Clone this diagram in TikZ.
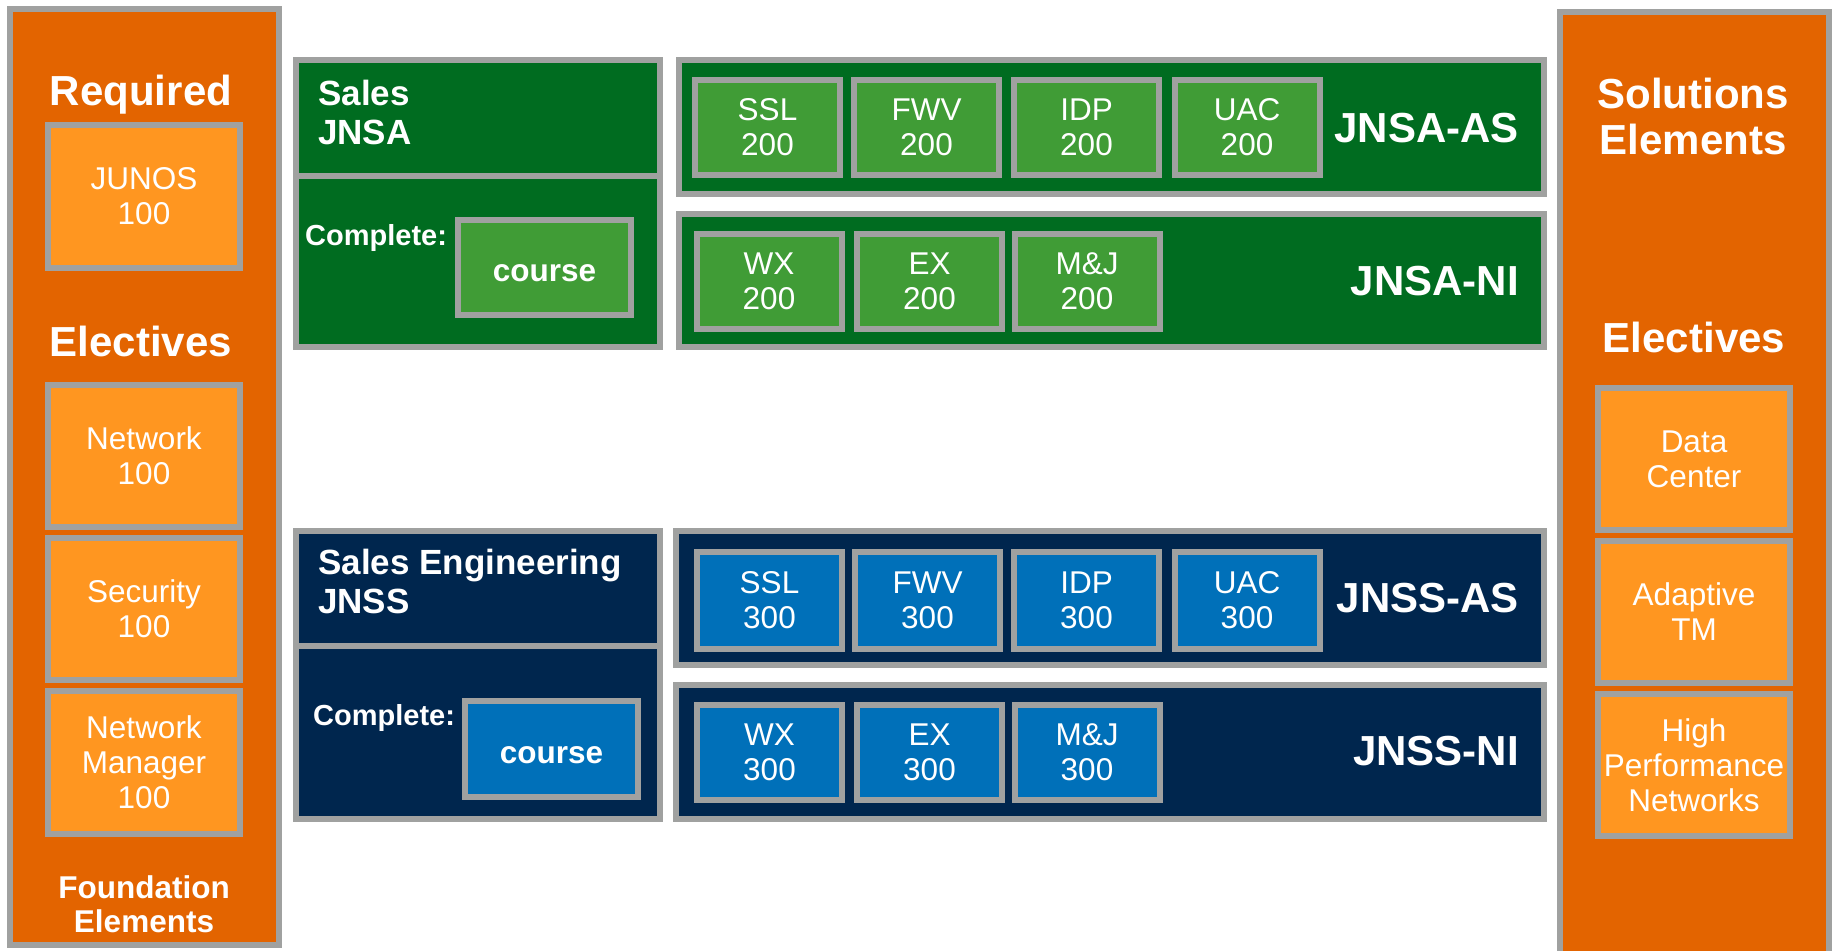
\documentclass[tikz,border=0pt]{standalone}
\usepackage{fontspec}
\setmainfont{Liberation Sans}
\definecolor{bgray}{RGB}{160,161,160}
\definecolor{dorange}{RGB}{227,100,0}
\definecolor{lorange}{RGB}{255,150,32}
\definecolor{dgreen}{RGB}{0,108,32}
\definecolor{lgreen}{RGB}{64,156,54}
\definecolor{navy}{RGB}{0,38,78}
\definecolor{lblue}{RGB}{0,112,185}
\tikzset{
  frame/.style={draw=bgray, line width=6bp, inner sep=0pt, text=white, align=center},
  panel/.style={frame, fill=dorange, minimum width=269bp},
  obox/.style={frame, fill=lorange, minimum width=192bp, font=\fontsize{31.5bp}{35bp}\selectfont},
  gbox/.style={frame, fill=lgreen, minimum width=145bp, minimum height=95bp, font=\fontsize{31.5bp}{35bp}\selectfont},
  bbox/.style={frame, fill=lblue, minimum width=145bp, minimum height=97bp, font=\fontsize{31.5bp}{35bp}\selectfont},
  gblock/.style={frame, fill=dgreen},
  nblock/.style={frame, fill=navy},
  head/.style={inner sep=0pt, text=white, align=center, font=\fontsize{42bp}{46bp}\selectfont\bfseries},
  subhead/.style={inner sep=0pt, text=white, align=center, font=\fontsize{31.5bp}{34bp}\selectfont\bfseries},
  title/.style={inner sep=0pt, text=white, align=left, font=\fontsize{35bp}{39bp}\selectfont\bfseries},
  cmp/.style={inner sep=0pt, text=white, font=\fontsize{29bp}{32bp}\selectfont\bfseries},
  crs/.style={font=\fontsize{31.5bp}{35bp}\selectfont\bfseries, minimum width=173bp, text height=28bp, text depth=0pt},
  lab/.style={inner sep=0pt, text=white, font=\fontsize{42bp}{46bp}\selectfont\bfseries},
}
\begin{document}
\begin{tikzpicture}[x=1bp,y=-1bp]
\useasboundingbox (0,0) rectangle (1833,950);
\fill[white] (0,0) rectangle (1833,950);

% Left panel: foundation elements
\node[panel, minimum height=936bp] (lpanel) at (144.5,477) {};
\node[head, anchor=base] (req) at (141,105) {Required};
\node[obox, minimum height=143bp] (junos) at (144,196.5) {JUNOS\\100};
\node[head, anchor=base] (elecL) at (141,356) {Electives};
\node[obox, minimum height=142bp] (net) at (144,456) {Network\\100};
\node[obox, minimum height=142bp] (sec) at (144,609) {Security\\100};
\node[obox, minimum height=143bp] (nm) at (144,762.5) {Network\\Manager\\100};
\node[subhead, anchor=north] (found) at (144,875) {Foundation\\Elements};

% Right panel: solutions elements
\node[panel, minimum height=947bp] (rpanel) at (1694.5,485.5) {};
\node[head, anchor=north] (sol) at (1693,78) {Solutions\\Elements};
\node[head, anchor=base] (elecR) at (1694,352) {Electives};
\node[obox, minimum height=142bp] (dc) at (1694,459) {Data\\Center};
\node[obox, minimum height=142bp] (atm) at (1694,612) {Adaptive\\TM};
\node[obox, minimum height=142bp] (hpn) at (1694,765) {High\\Performance\\Networks};

% Green: Sales JNSA
\node[gblock, minimum width=364bp, minimum height=116bp] (jnsahead) at (478,118) {};
\node[gblock, minimum width=364bp, minimum height=171bp] (jnsabody) at (478,261.5) {};
\node[title, anchor=north west] (jnsatitle) at (318,80) {Sales\\JNSA};
\node[cmp, anchor=base west] (jnsacmp) at (305,245) {Complete:};
\node[frame, fill=lgreen, crs, minimum height=95bp] (jnsacourse) at (544.5,267.5) {course};

\node[gblock, minimum width=865bp, minimum height=134bp] (jnsaas) at (1111.5,127) {};
\node[gbox] (ssl2) at (767.5,127.5) {SSL\\200};
\node[gbox] (fwv2) at (926.5,127.5) {FWV\\200};
\node[gbox] (idp2) at (1086.5,127.5) {IDP\\200};
\node[gbox] (uac2) at (1247,127.5) {UAC\\200};
\node[lab, anchor=base east] (jnsaaslab) at (1519,142) {JNSA-AS};

\node[gblock, minimum width=865bp, minimum height=133bp] (jnsani) at (1111.5,280.5) {};
\node[gbox] (wx2) at (769,281) {WX\\200};
\node[gbox] (ex2) at (929.5,281) {EX\\200};
\node[gbox] (mj2) at (1087,281) {M\&J\\200};
\node[lab, anchor=base east] (jnsanilab) at (1519,295) {JNSA-NI};

% Navy: Sales Engineering JNSS
\node[nblock, minimum width=364bp, minimum height=116bp] (jnsshead) at (478,589) {};
\node[nblock, minimum width=364bp, minimum height=173bp] (jnssbody) at (478,732.5) {};
\node[title, anchor=north west] (jnsstitle) at (318,549) {Sales Engineering\\JNSS};
\node[cmp, anchor=base west] (jnsscmp) at (313,725) {Complete:};
\node[frame, fill=lblue, crs, minimum height=96bp] (jnsscourse) at (551.5,749) {course};

\node[nblock, minimum width=868bp, minimum height=134bp] (jnssas) at (1110,598) {};
\node[bbox] (ssl3) at (769.5,600.5) {SSL\\300};
\node[bbox] (fwv3) at (927.5,600.5) {FWV\\300};
\node[bbox] (idp3) at (1086.5,600.5) {IDP\\300};
\node[bbox] (uac3) at (1247,600.5) {UAC\\300};
\node[lab, anchor=base east] (jnssaslab) at (1519,612) {JNSS-AS};

\node[nblock, minimum width=868bp, minimum height=134bp] (jnssni) at (1110,752) {};
\node[bbox, minimum height=95bp] (wx3) at (769.5,752.5) {WX\\300};
\node[bbox, minimum height=95bp] (ex3) at (929.5,752.5) {EX\\300};
\node[bbox, minimum height=95bp] (mj3) at (1087,752.5) {M\&J\\300};
\node[lab, anchor=base east] (jnssnilab) at (1519,765) {JNSS-NI};
\end{tikzpicture}
\end{document}
